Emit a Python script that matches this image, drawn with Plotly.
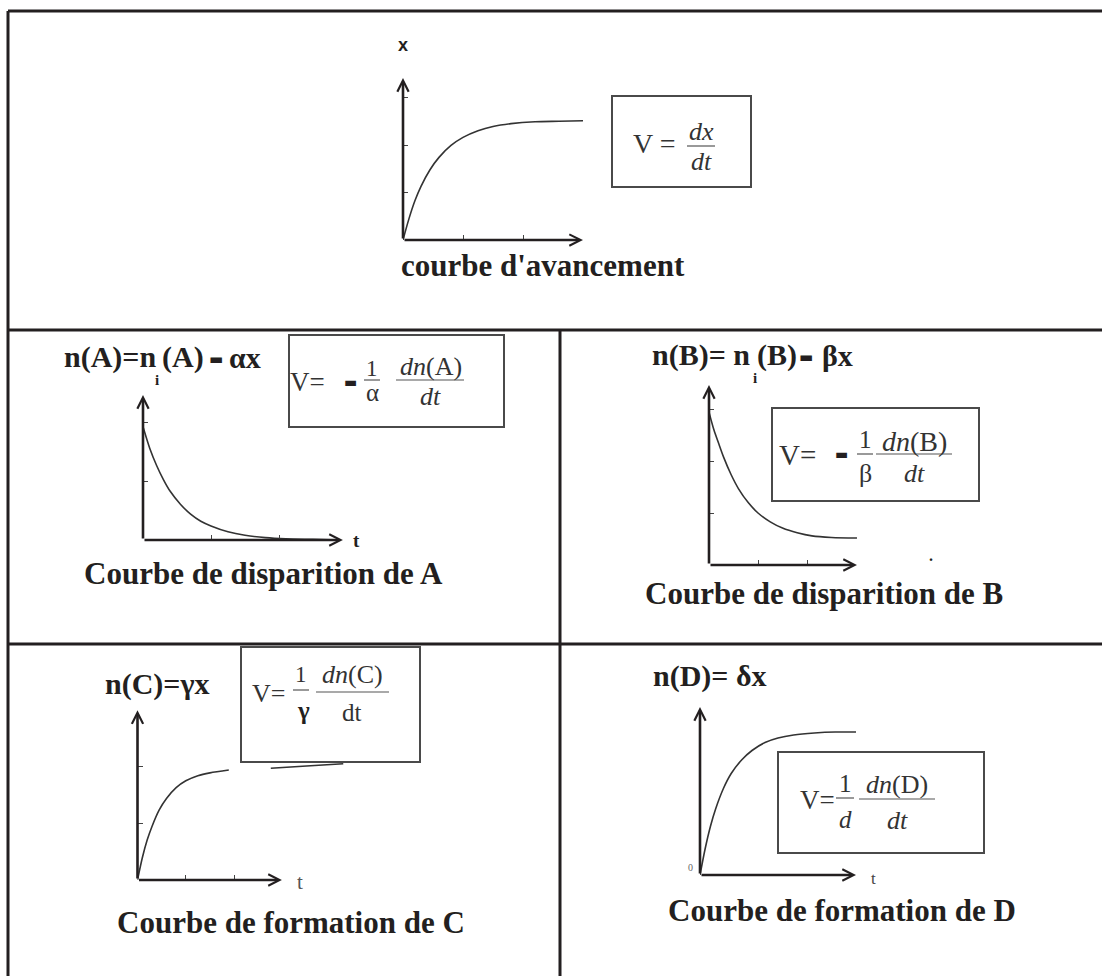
import plotly.graph_objects as go

W, H = 1102, 976
SERIF = "Liberation Serif"
SANS = "Liberation Sans"
INK = "#231f20"
GREY = "#333333"

# ---------------- data (tick units) ----------------
adv_t = [0, 0.1, 0.2, 0.3, 0.45, 0.6, 0.8, 1.0, 1.25, 1.5, 1.8, 2.2, 2.6, 3.0]
adv_x = [0, 0.45, 0.83, 1.13, 1.48, 1.74, 1.99, 2.16, 2.30, 2.39, 2.45, 2.49, 2.50, 2.51]

A_t = [0, 0.1, 0.2, 0.3, 0.4, 0.55, 0.7, 0.85, 1.0, 1.25, 1.5, 1.8, 2.1, 2.5, 2.9]
A_n = [1.93, 1.56, 1.27, 1.03, 0.83, 0.61, 0.44, 0.32, 0.24, 0.14, 0.08, 0.04, 0.02, 0.01, 0.0]

B_t = [0, 0.1, 0.2, 0.3, 0.45, 0.6, 0.8, 1.0, 1.25, 1.5, 1.8, 2.1, 2.5, 3.02]
B_n = [2.94, 2.60, 2.33, 2.07, 1.74, 1.47, 1.20, 1.00, 0.83, 0.71, 0.62, 0.56, 0.53, 0.52]

C_t = [0, 0.1, 0.2, 0.3, 0.45, 0.6, 0.8, 1.0, 1.25, 1.5, 1.89, None, 2.76, 3.5, 4.26]
C_n = [0, 0.39, 0.70, 0.94, 1.23, 1.43, 1.62, 1.74, 1.83, 1.88, 1.93, None, 1.96, 2.00, 2.04]

D_t = [0, 0.1, 0.2, 0.3, 0.45, 0.6, 0.8, 1.0, 1.25, 1.5, 1.8, 2.2, 2.6, 3.0]
D_n = [0, 0.53, 0.97, 1.32, 1.73, 2.03, 2.30, 2.49, 2.65, 2.74, 2.80, 2.84, 2.86, 2.86]

series = [("adv", adv_t, adv_x), ("A", A_t, A_n), ("B", B_t, B_n),
          ("C", C_t, C_n), ("D", D_t, D_n)]

# tick positions (tick units) for each small graph
x_ticks = {"adv": [1, 2], "A": [1, 2], "B": [1, 2], "C": [1, 2], "D": []}
y_ticks = {"adv": [1, 2, 3], "A": [1, 2], "B": [1, 2, 3], "C": [1, 2], "D": []}

captions = ["courbe d'avancement", "Courbe de disparition de A",
            "Courbe de disparition de B", "Courbe de formation de C",
            "Courbe de formation de D"]

# ---------------- layout geometry (pixels) ----------------
geom = {
    "adv": dict(ox=403, oy=240, sx=60, sy=47.5, xr=3.0, yr=3.41, xa=3.0),
    "A": dict(ox=143, oy=540, sx=68, sy=58.7, xr=2.94, yr=2.47, xa=2.94),
    "B": dict(ox=709, oy=565, sx=49, sy=52, xr=3.02, yr=3.46, xa=3.02),
    "C": dict(ox=137.5, oy=880, sx=48.3, sy=57, xr=4.3, yr=2.98, xa=2.99),
    "D": dict(ox=700, oy=875, sx=52, sy=50, xr=3.0, yr=3.36, xa=3.0),
}


def px(x):
    return x / W


def py(y):
    return 1 - y / H


fig = go.Figure()
annotations = []
layout_axes = {}

for i, (name, t, v) in enumerate(series, start=1):
    g = geom[name]
    xs = "" if i == 1 else str(i)
    fig.add_trace(go.Scatter(
        x=t, y=v, mode="lines",
        line=dict(color="#333333", width=1.6, shape="spline", smoothing=0.8),
        xaxis="x" + xs, yaxis="y" + xs, showlegend=False, hoverinfo="skip"))
    layout_axes["xaxis" + xs] = dict(
        domain=[px(g["ox"]), px(g["ox"] + g["sx"] * g["xr"])], range=[0, g["xr"]],
        anchor="y" + xs, showgrid=False, zeroline=False, showline=False,
        showticklabels=False, ticks="inside" if x_ticks[name] else "",
        tickvals=x_ticks[name], ticklen=5, tickwidth=1.3, tickcolor="#444",
        fixedrange=True)
    layout_axes["yaxis" + xs] = dict(
        domain=[py(g["oy"]), py(g["oy"] - g["sy"] * g["yr"])], range=[0, g["yr"]],
        anchor="x" + xs, showgrid=False, zeroline=False, showline=False,
        showticklabels=False, ticks="inside" if y_ticks[name] else "",
        tickvals=y_ticks[name], ticklen=5, tickwidth=1.3, tickcolor="#444",
        fixedrange=True)
    # axes with open arrow heads
    for (hx, hy) in [(g["xa"], 0), (0, g["yr"])]:
        annotations.append(dict(
            x=hx, y=hy, ax=0, ay=0, xref="x" + xs, yref="y" + xs,
            axref="x" + xs, ayref="y" + xs, text="", showarrow=True,
            arrowhead=5, arrowsize=0.85, arrowwidth=2.6, arrowcolor=INK))


def T(text, x, y, size, xanchor="center", family=SERIF, color=INK):
    annotations.append(dict(
        text=text, x=px(x), y=py(y), xref="paper", yref="paper",
        xanchor=xanchor, yanchor="middle", showarrow=False,
        font=dict(family=family, size=size, color=color)))


# captions
cap_pos = [(543, 265), (263, 573), (824, 593), (291, 922), (842, 910)]
for c, (cx, cy) in zip(captions, cap_pos):
    T("<b>" + c + "</b>", cx, cy, 31)

# titles
T("<b>n(A)=n</b>", 158, 357, 30, xanchor="right")
T("<b>i</b>", 157, 380, 15)
T("<b>(A)</b>", 160, 357, 30, xanchor="left")
T("▬", 216, 359, 15, family="DejaVu Sans")
T("<b>αx</b>", 227, 357, 30, xanchor="left")

T("<b>n(B)= n</b>", 752, 355, 30, xanchor="right")
T("<b>i</b>", 755, 378, 15)
T("<b>(B)</b>", 755, 355, 30, xanchor="left")
T("▬", 806, 357, 15, family="DejaVu Sans")
T("<b>βx</b>", 820, 355, 30, xanchor="left")

T("<b>n(C)=γx</b>", 157, 684, 30)
T("<b>n(D)= δx</b>", 710, 676, 30)

# axis labels
T("<b>x</b>", 403, 45, 18, family=SANS)
T("<b>t</b>", 356, 540, 19)
T("t", 300, 882, 21, color="#555")
T("t", 873, 878, 17, color="#444")
T("0", 690, 867, 10, color="#666")
T("<b>.</b>", 931, 555, 16)

# formulas
T("V =", 654, 143, 28, color=GREY)
T("<i>dx</i>", 701, 131, 26, color=GREY)
T("<i>dt</i>", 701, 161, 26, color=GREY)

T("V=", 307, 382, 27, color=GREY)
T("▬", 350, 382, 14, family="DejaVu Sans")
T("1", 372, 368, 23, color=GREY)
T("α", 372, 392, 25, color=GREY)
T("<i>dn</i>(A)", 431, 366, 26, color=GREY)
T("<i>dt</i>", 430, 396, 26, color=GREY)

T("V=", 797, 455, 29, color=GREY)
T("▬", 841, 454, 14, family="DejaVu Sans")
T("1", 865, 440, 25, color=GREY)
T("β", 865, 474, 26, color=GREY)
T("<i>dn</i>(B)", 914, 441, 28, color=GREY)
T("<i>dt</i>", 914, 474, 26, color=GREY)

T("V=", 268, 693, 26, color=GREY)
T("1", 301, 674, 23, color=GREY)
T("<b>γ</b>", 303, 710, 25)
T("<i>dn</i>(C)", 352, 674, 26, color=GREY)
T("dt", 352, 712, 25, color=GREY)

T("V=", 817, 800, 27, color=GREY)
T("1", 845, 783, 25, color=GREY)
T("<i>d</i>", 845, 819, 25, color=GREY)
T("<i>dn</i>(D)", 897, 784, 26, color=GREY)
T("<i>dt</i>", 897, 820, 26, color=GREY)

# ---------------- shapes: table, boxes, fraction bars ----------------
shapes = []
table_lines = [(8, 11, 1102, 11), (8, 11, 8, 976), (8, 330, 1102, 330),
               (8, 644, 1102, 644), (560, 330, 560, 976)]
for x0, y0, x1, y1 in table_lines:
    shapes.append(dict(type="line", xref="paper", yref="paper",
                       x0=px(x0), y0=py(y0), x1=px(x1), y1=py(y1),
                       line=dict(color=INK, width=3)))
boxes = [(612, 96, 751, 187), (289, 335, 504, 427), (772, 408, 979, 501),
         (241, 647, 420, 762), (778, 752, 984, 853)]
for x0, y0, x1, y1 in boxes:
    shapes.append(dict(type="rect", xref="paper", yref="paper",
                       x0=px(x0), y0=py(y0), x1=px(x1), y1=py(y1),
                       line=dict(color="#4a4a4a", width=2)))
bars = [(687, 715, 146), (364, 380, 380), (396, 464, 380), (857, 873, 454),
        (876, 952, 454), (293, 309, 690), (316, 389, 692), (836, 854, 798),
        (859, 935, 799)]
for x0, x1, y in bars:
    shapes.append(dict(type="line", xref="paper", yref="paper",
                       x0=px(x0), y0=py(y), x1=px(x1), y1=py(y),
                       line=dict(color="#555", width=1.2)))

fig.update_layout(
    width=W, height=H, autosize=False,
    margin=dict(l=0, r=0, t=0, b=0, pad=0),
    paper_bgcolor="white", plot_bgcolor="rgba(0,0,0,0)",
    showlegend=False, annotations=annotations, shapes=shapes,
    **layout_axes)

fig.write_html("out.html", post_script="document.body.style.margin='0';",
               config={"displayModeBar": False})
